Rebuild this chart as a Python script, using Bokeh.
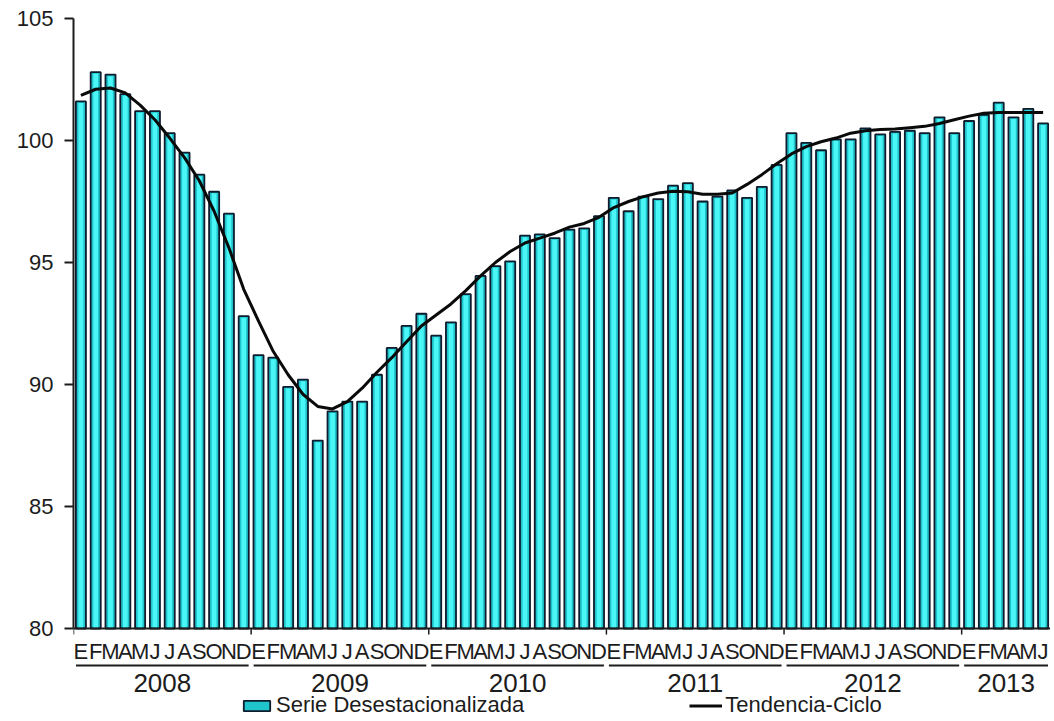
from bokeh.plotting import figure
from bokeh.models import (ColumnDataSource, Range1d, FixedTicker, Legend, LegendItem)
from bokeh.core.properties import value
from bokeh.embed import file_html
from bokeh.resources import INLINE

# ---------------- data ----------------
years = ["2008", "2009", "2010", "2011", "2012", "2013"]
month_letters = ["E", "F", "M", "A", "M", "J", "J", "A", "S", "O", "N", "D"]

serie_desestacionalizada = [
    101.6, 102.8, 102.7, 101.9, 101.2, 101.2, 100.3, 99.5, 98.6, 97.9, 97.0, 92.8,
    91.2, 91.1, 89.9, 90.2, 87.7, 88.9, 89.3, 89.3, 90.4, 91.5, 92.4, 92.9,
    92.0, 92.55, 93.7, 94.45, 94.85, 95.05, 96.1, 96.15, 96.0, 96.35, 96.4, 96.9,
    97.65, 97.1, 97.7, 97.6, 98.15, 98.25, 97.5, 97.7, 97.95, 97.65, 98.1, 99.0,
    100.3, 99.9, 99.6, 100.05, 100.05, 100.5, 100.25, 100.35, 100.4, 100.3, 100.95, 100.3,
    100.8, 101.05, 101.55, 100.95, 101.3, 100.7,
]

tendencia_ciclo = [
    101.85, 102.1, 102.15, 101.95, 101.45, 100.85, 100.1, 99.3, 98.35, 97.1, 95.6, 93.9,
    92.6, 91.35, 90.4, 89.6, 89.1, 89.0, 89.3, 89.85, 90.5, 91.1, 91.75, 92.4,
    92.85, 93.3, 93.85, 94.45, 95.0, 95.45, 95.8, 96.0, 96.2, 96.45, 96.6, 96.85,
    97.25, 97.5, 97.7, 97.85, 97.92, 97.9, 97.8, 97.8, 97.85, 98.2, 98.6, 99.05,
    99.45, 99.75, 99.95, 100.1, 100.3, 100.4, 100.45, 100.47, 100.52, 100.58, 100.7, 100.85,
    101.0, 101.12, 101.15, 101.15, 101.15, 101.15,
]

y_ticks = [80, 85, 90, 95, 100, 105]

# ---------------- layout constants ----------------
W, H = 1050, 718
BORDER_LEFT, BORDER_TOP = 73, 18
FRAME_TOP_PX = BORDER_TOP
FRAME_BOTTOM_PX = H
Y_BASE_PX = 628               # pixel of the axis baseline
Y_MIN, Y_MAX = y_ticks[0], y_ticks[-1]
ppu = (Y_BASE_PX - FRAME_TOP_PX) / (Y_MAX - Y_MIN)
y_start = Y_MAX - (FRAME_BOTTOM_PX - FRAME_TOP_PX) / ppu

n = len(serie_desestacionalizada)
xs = list(range(n))
frame_w = W - BORDER_LEFT
ppm = frame_w / n  # px per month


def below(px):
    """data y for a point `px` pixels under the axis baseline"""
    return Y_MIN - px / ppu


FONT = "Liberation Sans"
DARK = "#1c1c1c"

p = figure(width=W, height=H, output_backend="svg", toolbar_location=None,
           x_range=Range1d(-0.5, n - 0.5), y_range=Range1d(y_start, Y_MAX),
           x_axis_location=None, min_border_left=BORDER_LEFT, min_border_top=BORDER_TOP,
           min_border_bottom=0, min_border_right=0)
p.outline_line_color = None
p.xgrid.visible = False
p.ygrid.visible = False
p.background_fill_color = "white"

src = ColumnDataSource(dict(x=xs, serie=serie_desestacionalizada, trend=tendencia_ciclo,
                            inner_top=[v - 1.6 / ppu for v in serie_desestacionalizada]))

bars = p.vbar(x="x", top="serie", bottom=Y_MIN, width=0.68, source=src,
              fill_color="#1FC4CC", line_color="#0E1C2E", line_width=1.8)
p.vbar(x="x", top="inner_top", bottom=Y_MIN + 1.0 / ppu, width=0.32, source=src,
       fill_color="#4AF6F6", line_color=None)

line = p.line(x="x", y="trend", source=src, line_color="#0a0a0a", line_width=3,
              line_join="round")

# x axis line drawn at the baseline
p.segment(x0=[-0.5], y0=[Y_MIN], x1=[n - 0.5], y1=[Y_MIN], line_color=DARK, line_width=2)

# year boundaries, ticks, underlines and year labels
starts = [12 * i for i in range(len(years))]
ends = [min(s + 12, n) for s in starts]
p.segment(x0=[s - 0.5 for s in starts], y0=[Y_MIN] * len(starts),
          x1=[s - 0.5 for s in starts], y1=[below(6)] * len(starts),
          line_color=DARK, line_width=1.5)
gap = 2.5 / ppm
p.segment(x0=[s - 0.5 + gap for s in starts], y0=[below(37)] * len(starts),
          x1=[e - 0.5 - gap for e in ends], y1=[below(37)] * len(starts),
          line_color=DARK, line_width=2)

month_src = ColumnDataSource(dict(x=xs, y=[below(23)] * n,
                                  t=[month_letters[i % 12] for i in xs]))
p.text(x="x", y="y", text="t", source=month_src, text_align="center",
       text_baseline="middle", text_font=value(FONT), text_font_size="22px",
       text_color=DARK)

year_src = ColumnDataSource(dict(x=[(s + e - 1) / 2 for s, e in zip(starts, ends)],
                                 y=[below(54)] * len(years), t=years))
p.text(x="x", y="y", text="t", source=year_src, text_align="center",
       text_baseline="middle", text_font=value(FONT), text_font_size="26px",
       text_color=DARK)

# y axis
ya = p.yaxis[0]
ya.ticker = FixedTicker(ticks=y_ticks)
ya.bounds = (Y_MIN, Y_MAX)
ya.axis_line_color = DARK
ya.axis_line_width = 2
ya.major_tick_line_color = DARK
ya.major_tick_line_width = 2
ya.major_tick_out = 9
ya.major_tick_in = 0
ya.minor_tick_line_color = None
ya.major_label_standoff = 11
ya.major_label_text_font = FONT
ya.major_label_text_font_size = "22px"
ya.major_label_text_color = DARK

legend = Legend(items=[LegendItem(label="Serie Desestacionalizada", renderers=[bars]),
                       LegendItem(label="Tendencia-Ciclo", renderers=[line])],
                location=(167, 0), orientation="horizontal", spacing=165,
                glyph_width=33, glyph_height=13, label_standoff=3, padding=0, margin=0,
                border_line_color=None, background_fill_alpha=0,
                label_text_font=FONT, label_text_font_size="22px", label_text_color=DARK)
p.add_layout(legend)

open("out.html", "w").write(file_html(p, INLINE))
